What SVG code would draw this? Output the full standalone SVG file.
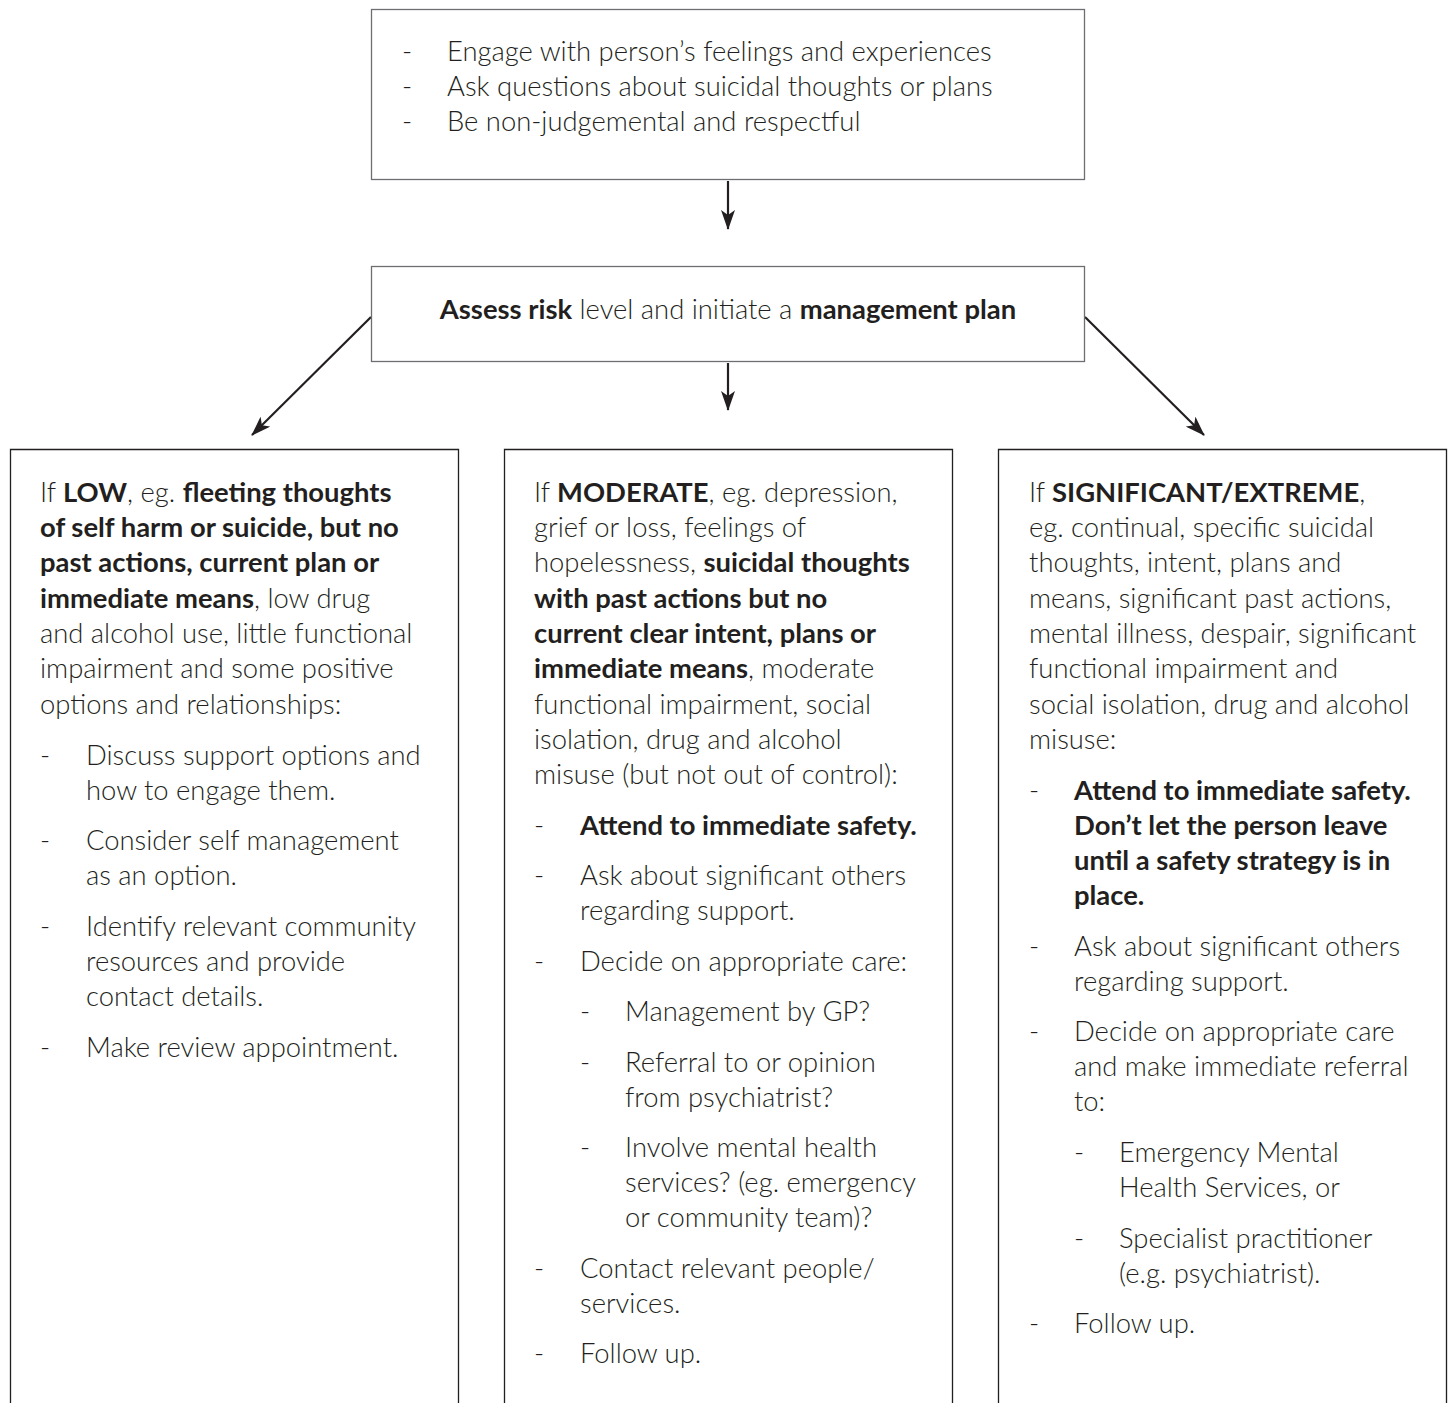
<svg xmlns="http://www.w3.org/2000/svg" width="1454" height="1403" viewBox="0 0 1454 1403">
<defs>
<style>
text{font-family:Lato,"Open Sans","Liberation Sans",sans-serif;font-size:27.4px;font-weight:300;fill:#231f20}
.b{font-weight:700}
.box{fill:#fff;stroke:#6d6e71;stroke-width:1.3}
.col{fill:none;stroke:#231f20;stroke-width:1.3}
.arr{stroke:#231f20;stroke-width:2.2;fill:none;marker-end:url(#ah)}
</style>
<marker id="ah" viewBox="0 0 20 14" refX="19" refY="7" markerWidth="20" markerHeight="14" markerUnits="userSpaceOnUse" orient="auto">
<path d="M0,0 L20,7 L0,14 L5,7 Z" fill="#231f20"/>
</marker>
</defs>
<rect width="1454" height="1403" fill="#fff"/>

<g id="connectors">
<line class="arr" x1="728" y1="181" x2="728" y2="229"/>
<line class="arr" x1="728" y1="363" x2="728" y2="410"/>
<line class="arr" x1="371" y1="317" x2="252" y2="435"/>
<line class="arr" x1="1085" y1="317" x2="1204" y2="435"/>
</g>

<g id="engage">
<rect class="box" x="371.5" y="9.5" width="713" height="170"/>
<text x="402" y="61">-</text><text x="447" y="61">Engage with person’s feelings and experiences</text>
<text x="402" y="96">-</text><text x="447" y="96">Ask questions about suicidal thoughts or plans</text>
<text x="402" y="131">-</text><text x="447" y="131">Be non-judgemental and respectful</text>
</g>

<g id="assess">
<rect class="box" x="371.5" y="266.5" width="713" height="95"/>
<text x="728" y="319" text-anchor="middle"><tspan class="b">Assess risk</tspan> level and initiate a <tspan class="b">management plan</tspan></text>
</g>

<g id="low">
<path class="col" d="M10.5,1403 V449.5 H458.5 V1403"/>
<text x="40" y="502">If <tspan class="b">LOW</tspan>, eg. <tspan class="b">fleeting thoughts</tspan></text>
<text x="40" y="537" class="b">of self harm or suicide, but no</text>
<text x="40" y="572" class="b">past actions, current plan or</text>
<text x="40" y="608"><tspan class="b">immediate means</tspan>, low drug</text>
<text x="40" y="643">and alcohol use, little functional</text>
<text x="40" y="678">impairment and some positive</text>
<text x="40" y="714">options and relationships:</text>
<text x="40" y="765">-</text><text x="86" y="765">Discuss support options and</text>
<text x="86" y="800">how to engage them.</text>
<text x="40" y="850">-</text><text x="86" y="850">Consider self management</text>
<text x="86" y="885">as an option.</text>
<text x="40" y="936">-</text><text x="86" y="936">Identify relevant community</text>
<text x="86" y="971">resources and provide</text>
<text x="86" y="1006">contact details.</text>
<text x="40" y="1057">-</text><text x="86" y="1057">Make review appointment.</text>
</g>

<g id="moderate">
<path class="col" d="M504.5,1403 V449.5 H952.5 V1403"/>
<text x="534" y="502">If <tspan class="b">MODERATE</tspan>, eg. depression,</text>
<text x="534" y="537">grief or loss, feelings of</text>
<text x="534" y="572">hopelessness, <tspan class="b">suicidal thoughts</tspan></text>
<text x="534" y="608" class="b">with past actions but no</text>
<text x="534" y="643" class="b">current clear intent, plans or</text>
<text x="534" y="678"><tspan class="b">immediate means</tspan>, moderate</text>
<text x="534" y="714">functional impairment, social</text>
<text x="534" y="749">isolation, drug and alcohol</text>
<text x="534" y="784">misuse (but not out of control):</text>
<text x="534" y="835">-</text><text x="580" y="835" class="b">Attend to immediate safety.</text>
<text x="534" y="885">-</text><text x="580" y="885">Ask about significant others</text>
<text x="580" y="920">regarding support.</text>
<text x="534" y="971">-</text><text x="580" y="971">Decide on appropriate care:</text>
<text x="580" y="1021">-</text><text x="625" y="1021">Management by GP?</text>
<text x="580" y="1072">-</text><text x="625" y="1072">Referral to or opinion</text>
<text x="625" y="1107">from psychiatrist?</text>
<text x="580" y="1157">-</text><text x="625" y="1157">Involve mental health</text>
<text x="625" y="1192">services? (eg. emergency</text>
<text x="625" y="1227">or community team)?</text>
<text x="534" y="1278">-</text><text x="580" y="1278">Contact relevant people/</text>
<text x="580" y="1313">services.</text>
<text x="534" y="1363">-</text><text x="580" y="1363">Follow up.</text>
</g>

<g id="significant">
<path class="col" d="M998.5,1403 V449.5 H1446.5 V1403"/>
<text x="1029" y="502">If <tspan class="b">SIGNIFICANT/EXTREME</tspan>,</text>
<text x="1029" y="537">eg. continual, specific suicidal</text>
<text x="1029" y="572">thoughts, intent, plans and</text>
<text x="1029" y="608">means, significant past actions,</text>
<text x="1029" y="643">mental illness, despair, significant</text>
<text x="1029" y="678">functional impairment and</text>
<text x="1029" y="714">social isolation, drug and alcohol</text>
<text x="1029" y="749">misuse:</text>
<text x="1029" y="800">-</text><text x="1074" y="800" class="b">Attend to immediate safety.</text>
<text x="1074" y="835" class="b">Don’t let the person leave</text>
<text x="1074" y="870" class="b">until a safety strategy is in</text>
<text x="1074" y="905" class="b">place.</text>
<text x="1029" y="956">-</text><text x="1074" y="956">Ask about significant others</text>
<text x="1074" y="991">regarding support.</text>
<text x="1029" y="1041">-</text><text x="1074" y="1041">Decide on appropriate care</text>
<text x="1074" y="1076">and make immediate referral</text>
<text x="1074" y="1111">to:</text>
<text x="1074" y="1162">-</text><text x="1119" y="1162">Emergency Mental</text>
<text x="1119" y="1197">Health Services, or</text>
<text x="1074" y="1248">-</text><text x="1119" y="1248">Specialist practitioner</text>
<text x="1119" y="1283">(e.g. psychiatrist).</text>
<text x="1029" y="1333">-</text><text x="1074" y="1333">Follow up.</text>
</g>
</svg>
